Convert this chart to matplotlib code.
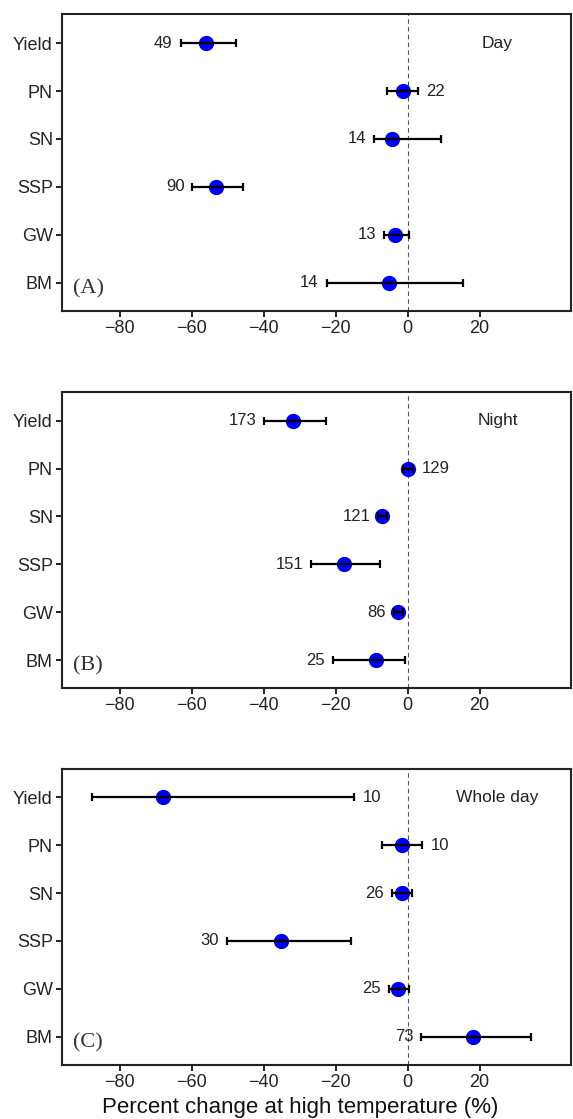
import matplotlib
matplotlib.use("Agg")
import matplotlib.pyplot as plt

plt.rcParams["font.family"] = ["Liberation Sans", "DejaVu Sans"]

TRAITS = ["Yield", "PN", "SN", "SSP", "GW", "BM"]
XTICKS = [-80, -60, -40, -20, 0, 20]

# Day
DAY_MEAN = [-56.0, -1.2, -4.3, -53.2, -3.5, -5.3]
DAY_LOW = [-63.1, -5.6, -9.4, -59.8, -6.5, -22.5]
DAY_HIGH = [-47.6, 2.9, 9.4, -45.8, 0.4, 15.3]
DAY_N = [49, 22, 14, 90, 13, 14]
DAY_SIDE = ["left", "right", "left", "left", "left", "left"]

# Night
NIGHT_MEAN = [-31.8, 0.0, -7.0, -17.8, -2.6, -8.8]
NIGHT_LOW = [-39.8, -1.4, -8.2, -26.8, -3.8, -20.8]
NIGHT_HIGH = [-22.7, 1.6, -5.6, -7.8, -1.3, -0.6]
NIGHT_N = [173, 129, 121, 151, 86, 25]
NIGHT_SIDE = ["left", "right", "left", "left", "left", "left"]

# Whole day
WHOLE_MEAN = [-68.0, -1.6, -1.5, -35.3, -2.6, 18.2]
WHOLE_LOW = [-87.8, -7.0, -4.3, -50.3, -5.2, 3.8]
WHOLE_HIGH = [-14.8, 4.1, 1.2, -15.7, 0.4, 34.4]
WHOLE_N = [10, 10, 26, 30, 25, 73]
WHOLE_SIDE = ["right", "right", "left", "left", "left", "left"]

PANELS = [
    ("Day", "(A)", DAY_MEAN, DAY_LOW, DAY_HIGH, DAY_N, DAY_SIDE),
    ("Night", "(B)", NIGHT_MEAN, NIGHT_LOW, NIGHT_HIGH, NIGHT_N, NIGHT_SIDE),
    ("Whole day", "(C)", WHOLE_MEAN, WHOLE_LOW, WHOLE_HIGH, WHOLE_N, WHOLE_SIDE),
]

fig = plt.figure(figsize=(5.73, 11.19), dpi=100)
bottoms = [0.7223, 0.3849, 0.0483]
left, width, height = 0.108, 0.889, 0.2648


def draw_panel(ax, title, tag, mean, low, high, n, side):
    y = list(range(len(TRAITS)))
    xerr = [[m - lo for m, lo in zip(mean, low)], [hi - m for m, hi in zip(mean, high)]]
    ax.axvline(0, color="#555555", lw=0.8, ls=(0, (4, 3)), zorder=1)
    ax.plot(mean, y, "o", color="#0000ee", ms=10, zorder=3)
    ax.errorbar(mean, y, xerr=xerr, fmt="none", ecolor="black", elinewidth=1.6,
                capsize=3.2, capthick=1.6, zorder=4)
    for yi, lo, hi, ni, s in zip(y, low, high, n, side):
        if s == "left":
            ax.text(lo - 2.2, yi, str(ni), ha="right", va="center", fontsize=12, color="#222222")
        else:
            ax.text(hi + 2.2, yi, str(ni), ha="left", va="center", fontsize=12, color="#222222")
    ax.text(25, 0, title, ha="center", va="center", fontsize=12.5, color="#222222")
    ax.text(0.022, 0.075, tag, transform=ax.transAxes, ha="left", va="center",
            fontsize=16, family=["Liberation Serif", "DejaVu Serif"], color="#333333")
    ax.set_xlim(-96.1, 45.5)
    ax.set_ylim(5.59, -0.6)
    ax.set_yticks(y)
    ax.set_yticklabels(TRAITS)
    ax.set_xticks(XTICKS)
    ax.set_xticklabels([f"\u2212{abs(t)}" if t < 0 else str(t) for t in XTICKS])
    ax.tick_params(axis="both", direction="out", length=4.5, width=1.4, labelsize=13,
                   color="#222222", labelcolor="#222222", pad=2)
    for sp in ax.spines.values():
        sp.set_linewidth(1.5)
        sp.set_color("#222222")


for b, panel in zip(bottoms, PANELS):
    ax = fig.add_axes([left, b, width, height])
    draw_panel(ax, *panel)
    last = ax

last.set_xlabel("Percent change at high temperature (%)", fontsize=16, color="#111111")
last.xaxis.label.set_va("center")
last.xaxis.set_label_coords(0.467, -0.142)

fig.savefig("out.png", dpi=100)
